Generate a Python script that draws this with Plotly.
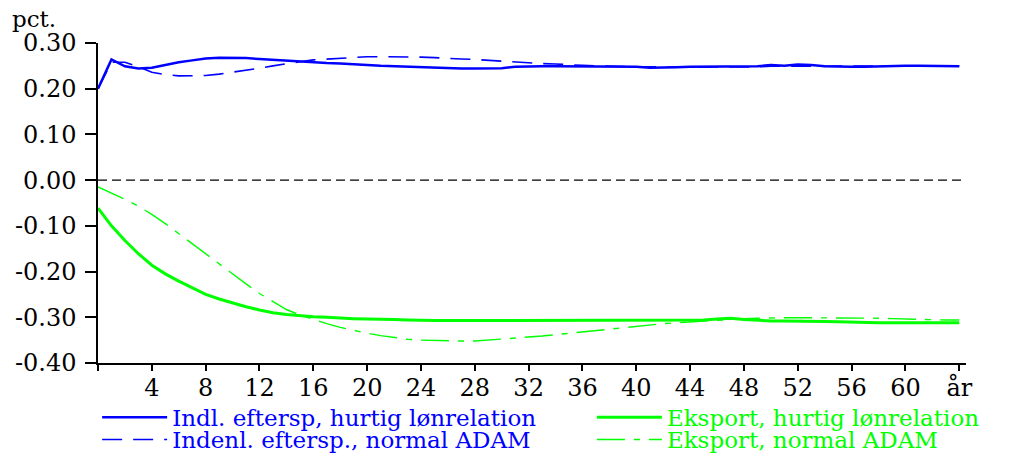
import plotly.graph_objects as go

# ---------------- data ----------------
years = list(range(0, 65))

indl_hurtig = [
    0.200, 0.264, 0.249, 0.244, 0.246, 0.252, 0.258, 0.262, 0.266, 0.268,
    0.268, 0.267, 0.265, 0.263, 0.261, 0.259, 0.258, 0.256, 0.255, 0.254,
    0.252, 0.250, 0.249, 0.248, 0.247, 0.245, 0.244, 0.244, 0.244, 0.244,
    0.245, 0.248, 0.249, 0.249, 0.249, 0.249, 0.249, 0.249, 0.249, 0.248,
    0.248, 0.246, 0.246, 0.247, 0.248, 0.248, 0.248, 0.248, 0.248, 0.249,
    0.252, 0.250, 0.253, 0.252, 0.249, 0.248, 0.248, 0.248, 0.249, 0.250,
    0.250, 0.250, 0.250, 0.250, 0.249,
]

indenl_normal = [
    0.200, 0.258, 0.258, 0.248, 0.236, 0.231, 0.228, 0.228, 0.229, 0.232,
    0.236, 0.240, 0.245, 0.250, 0.255, 0.259, 0.263, 0.265, 0.267, 0.269,
    0.270, 0.270, 0.270, 0.270, 0.269, 0.268, 0.266, 0.265, 0.264, 0.262,
    0.261, 0.259, 0.257, 0.255, 0.254, 0.252, 0.251, 0.250, 0.249, 0.249,
    0.248, 0.248, 0.247, 0.247, 0.247, 0.247, 0.248, 0.248, 0.248, 0.248,
    0.249, 0.249, 0.250, 0.250, 0.249, 0.249, 0.249, 0.249, 0.249, 0.250,
    0.250, 0.250, 0.250, 0.250, 0.250,
]

eksport_hurtig = [
    -0.061, -0.100, -0.132, -0.161, -0.186, -0.205, -0.221, -0.236, -0.250, -0.260,
    -0.269, -0.277, -0.284, -0.290, -0.294, -0.297, -0.299, -0.300, -0.302, -0.303,
    -0.304, -0.304, -0.305, -0.306, -0.307, -0.307, -0.307, -0.307, -0.307, -0.307,
    -0.307, -0.307, -0.307, -0.307, -0.307, -0.307, -0.307, -0.307, -0.307, -0.307,
    -0.307, -0.307, -0.307, -0.307, -0.307, -0.306, -0.304, -0.302, -0.305, -0.307,
    -0.308, -0.308, -0.308, -0.308, -0.309, -0.310, -0.311, -0.312, -0.312, -0.312,
    -0.312, -0.312, -0.312, -0.312, -0.312,
]

eksport_normal = [
    -0.015, -0.028, -0.042, -0.057, -0.075, -0.095, -0.117, -0.140, -0.162, -0.183,
    -0.205, -0.227, -0.248, -0.266, -0.283, -0.295, -0.305, -0.314, -0.322, -0.329,
    -0.335, -0.340, -0.344, -0.348, -0.350, -0.351, -0.352, -0.352, -0.352, -0.350,
    -0.348, -0.346, -0.344, -0.341, -0.338, -0.335, -0.332, -0.329, -0.326, -0.322,
    -0.319, -0.317, -0.314, -0.312, -0.310, -0.308, -0.306, -0.304, -0.303, -0.302,
    -0.301, -0.301, -0.301, -0.301, -0.301, -0.301, -0.301, -0.301, -0.302, -0.303,
    -0.304, -0.305, -0.305, -0.306, -0.306,
]

x_tickvals = list(range(0, 65, 4))
x_ticktext = [""] + [str(v) for v in range(4, 61, 4)] + ["år"]
y_tickvals = [-0.4, -0.3, -0.2, -0.1, 0.0, 0.1, 0.2, 0.3]
y_ticktext = ["-0.40", "-0.30", "-0.20", "-0.10", "0.00", "0.10", "0.20", "0.30"]

names = [
    "Indl. eftersp, hurtig lønrelation",
    "Eksport, hurtig lønrelation",
    "Indenl. eftersp., normal ADAM",
    "Eksport, normal ADAM",
]

BLUE = "#0000ff"
GREEN = "#00ff00"
FONT = "DejaVu Serif"
TICK_SIZE = 24
LEG_SIZE = 23

fig = go.Figure()

series = [
    (indl_hurtig, names[0], BLUE, 2.5, "solid", "legend"),
    (eksport_hurtig, names[1], GREEN, 3, "solid", "legend3"),
    (indenl_normal, names[2], BLUE, 1.6, "20px,11px", "legend2"),
    (eksport_normal, names[3], GREEN, 1.4, "28px,9px,6px,9px", "legend4"),
]
for vals, name, color, width, dash, leg in series:
    fig.add_trace(go.Scatter(
        x=years, y=vals, mode="lines",
        name=f'<span style="color:{color}">{name}</span>',
        line=dict(color=color, width=width, dash=dash),
        legend=leg,
    ))

# dashed zero reference line
fig.add_shape(type="line", xref="paper", x0=0, x1=1, yref="y", y0=0, y1=0,
              line=dict(color="black", width=1.2, dash="9px,5px"), layer="below")

fig.add_annotation(text="pct.", xref="paper", yref="paper",
                   x=-0.101, y=1.0, xanchor="left", yanchor="bottom",
                   yshift=9, showarrow=False,
                   font=dict(family=FONT, size=23, color="black"))


def leg(x, y):
    return dict(
        orientation="h", x=x, y=y, xanchor="left", yanchor="middle",
        font=dict(family=FONT, size=LEG_SIZE),
        bgcolor="rgba(0,0,0,0)", itemwidth=65,
    )


fig.update_layout(
    width=1012, height=454,
    margin=dict(l=98, r=46, t=43, b=91, autoexpand=False),
    paper_bgcolor="white", plot_bgcolor="white",
    font=dict(family=FONT, size=TICK_SIZE, color="black"),
    showlegend=True,
    legend=leg(-0.001, -0.170),
    legend2=leg(-0.001, -0.239),
    legend3=leg(0.569, -0.170),
    legend4=leg(0.569, -0.239),
    xaxis=dict(
        range=[0, 64.5], tickmode="array", tickvals=x_tickvals, ticktext=x_ticktext,
        showgrid=False, zeroline=False, showline=True, linecolor="black", linewidth=1.5,
        ticks="outside", ticklen=6, tickwidth=1.5, tickcolor="black",
        tickfont=dict(family=FONT, size=TICK_SIZE, color="black"),
        ticklabelstandoff=-4, automargin=False,
    ),
    yaxis=dict(
        range=[-0.4, 0.3], tickmode="array", tickvals=y_tickvals, ticktext=y_ticktext,
        showgrid=False, zeroline=False, showline=True, linecolor="black", linewidth=1.5,
        ticks="outside", ticklen=11, tickwidth=1.5, tickcolor="black",
        tickfont=dict(family=FONT, size=TICK_SIZE, color="black"),
        ticklabelstandoff=4, automargin=False,
    ),
)

fig.write_html("out.html", config={"displayModeBar": False},
               post_script="document.body.style.margin='0';")
